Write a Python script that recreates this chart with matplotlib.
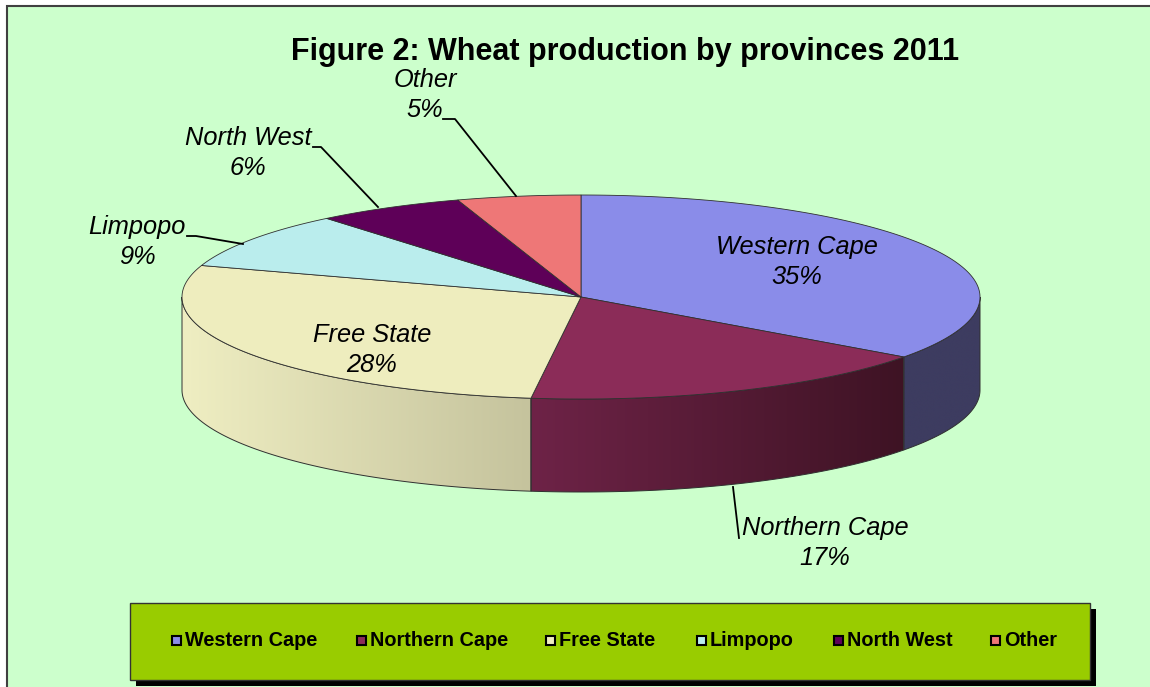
import numpy as np
import matplotlib
matplotlib.use("Agg")
import matplotlib.pyplot as plt
from matplotlib.patches import Polygon, Rectangle
from matplotlib.colors import LinearSegmentedColormap

# ---- data ----
categories = ["Western Cape", "Northern Cape", "Free State", "Limpopo", "North West", "Other"]
shares = [35, 17, 28, 9, 6, 5]
top_colors = ["#8A8CE9", "#8B2C58", "#EEEDBE", "#BAEDED", "#5E0058", "#EE7777"]
side_left = ["#3D3C60", "#6E2347", "#EFEEC2", "#A8D5D5", "#4A0045", "#C86060"]
side_right = ["#3D3C60", "#3E1324", "#C5C39D", "#A8D5D5", "#4A0045", "#C86060"]
title = "Figure 2: Wheat production by provinces 2011"

plt.rcParams['font.family'] = ['Liberation Sans', 'DejaVu Sans']

W, H = 1150, 687
fig = plt.figure(figsize=(W / 100, H / 100), dpi=100)
fig.patch.set_facecolor("white")
ax = fig.add_axes([0, 0, 1, 1])
ax.set_xlim(0, W)
ax.set_ylim(H, 0)
ax.axis("off")

# chart area background
ax.add_patch(Rectangle((7, 6), W, H, facecolor="#CCFFCC", edgecolor="#404040", lw=1.5, zorder=0))

# pie geometry
cx, cy, a, b, depth = 581, 297, 399, 102, 93

def pt(theta):
    return cx + a * np.sin(theta), cy - b * np.cos(theta)

total = float(sum(shares))
bounds = np.concatenate([[0], np.cumsum(shares)]) / total * 2 * np.pi

# side walls (visible front half: theta in [pi/2, 3pi/2])
for i in range(len(shares)):
    t1, t2 = max(bounds[i], np.pi / 2), min(bounds[i + 1], 3 * np.pi / 2)
    if t2 <= t1:
        continue
    th = np.linspace(t1, t2, 120)
    xs, ys = pt(th)
    poly_xy = np.vstack([np.column_stack([xs, ys]), np.column_stack([xs[::-1], ys[::-1] + depth])])
    poly = Polygon(poly_xy, closed=True, facecolor="none", edgecolor="#303030", lw=0.7, zorder=3)
    ax.add_patch(poly)
    x0, x1 = xs.min(), xs.max()
    y0, y1 = ys.min(), ys.max() + depth
    cmap = LinearSegmentedColormap.from_list("g%d" % i, [side_left[i], side_right[i]])
    grad = np.linspace(0, 1, 256).reshape(1, -1)
    im = ax.imshow(grad, cmap=cmap, extent=[x0, x1, y1, y0], aspect="auto", zorder=2,
                   interpolation="bilinear")
    clip = Polygon(poly_xy, closed=True, transform=ax.transData)
    im.set_clip_path(clip)

# top wedges
for i in range(len(shares)):
    th = np.linspace(bounds[i], bounds[i + 1], 150)
    xs, ys = pt(th)
    xy = np.vstack([[cx, cy], np.column_stack([xs, ys])])
    ax.add_patch(Polygon(xy, closed=True, facecolor=top_colors[i], edgecolor="#303030", lw=0.6, zorder=4))

# title
ax.text(625, 52, title, ha="center", va="center", fontsize=22, fontweight="bold", zorder=6)

# data labels
lab_kw = dict(ha="center", va="center", fontsize=18.3, style="italic", zorder=6, linespacing=1.3)
labels_pos = [(797, 262), (825, 543), (372, 350), (137, 242), (248, 153), (425, 95)]
for i, (lx, ly) in enumerate(labels_pos):
    ax.text(lx, ly, "%s\n%d%%" % (categories[i], shares[i]), **lab_kw)

# leader lines
leaders = [
    [(733, 487), (739, 538)],
    [(187, 236), (196, 236), (243, 244)],
    [(313, 147), (321, 147), (378, 207)],
    [(443, 119), (455, 119), (516, 196)],
]
for ln in leaders:
    arr = np.array(ln)
    ax.plot(arr[:, 0], arr[:, 1], color="black", lw=1.3, zorder=5)

# legend
ax.add_patch(Rectangle((136, 609), 960, 77, facecolor="black", edgecolor="none", zorder=6))
ax.add_patch(Rectangle((130, 603), 960, 77, facecolor="#99CC00", edgecolor="#333333", lw=1, zorder=7))
leg_x = [172, 357, 546, 697, 834, 991]
for i, name in enumerate(categories):
    ax.add_patch(Rectangle((leg_x[i], 636), 9, 9, facecolor=top_colors[i], edgecolor="black", lw=1.5, zorder=8))
    ax.text(leg_x[i] + 13, 641, name, ha="left", va="center", fontsize=14.3, fontweight="bold", zorder=8)

fig.savefig("out.png", dpi=100, facecolor=fig.get_facecolor())
